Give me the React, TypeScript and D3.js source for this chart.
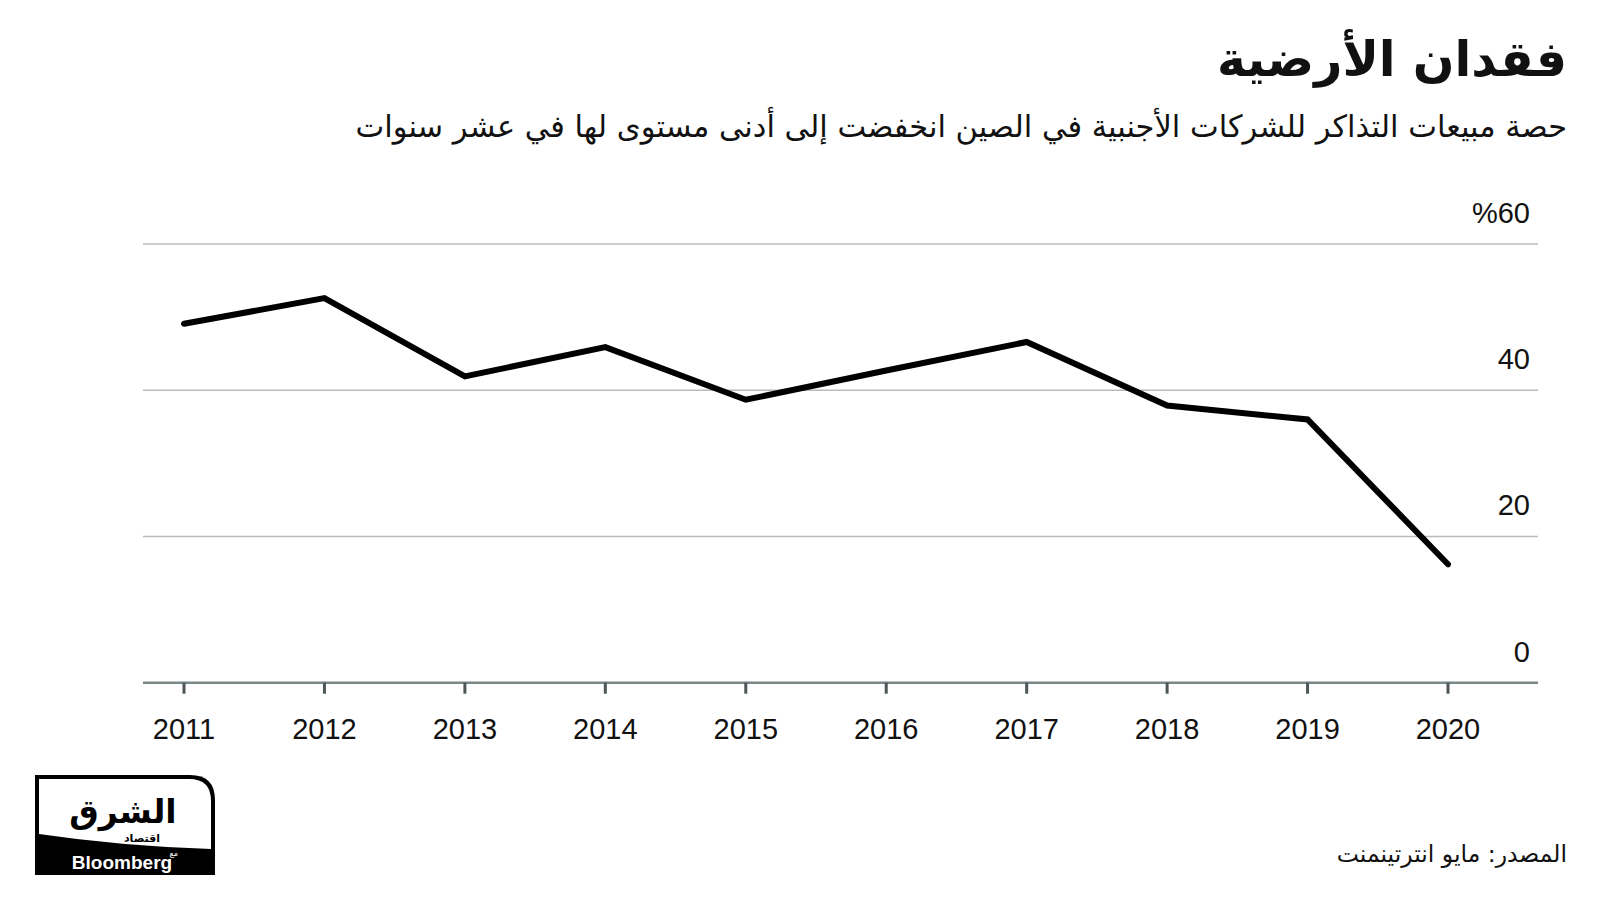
import React from "react";
import * as d3 from "d3";

const years = [2011, 2012, 2013, 2014, 2015, 2016, 2017, 2018, 2019, 2020];
const shares = [49.1, 52.6, 41.9, 45.9, 38.7, 42.7, 46.6, 37.9, 36.0, 16.2];
const yTicks = [0, 20, 40, 60];
const yTickLabels = ["0", "20", "40", "%60"];

const title = "فقدان الأرضية";
const subtitle = "حصة مبيعات التذاكر للشركات الأجنبية في الصين انخفضت إلى أدنى مستوى لها في عشر سنوات";
const source = "المصدر: مايو انترتينمنت";

const W = 1600;
const H = 900;
const plotLeft = 143;
const plotRight = 1538;
const arabicFont = "'DejaVu Sans', 'Noto Sans', sans-serif";
const numFont = "'Liberation Sans', Arial, sans-serif";

export default function App() {
  const x = d3
    .scalePoint<number>()
    .domain(years)
    .range([184, 1448]);
  const y = d3.scaleLinear().domain([0, 60]).range([682.7, 244]);

  const line = d3
    .line<number>()
    .x((_, i) => x(years[i]) as number)
    .y((d) => y(d));

  return (
    <div style={{ position: "absolute", left: 0, top: 0 }}>
      <svg width={W} height={H} style={{ display: "block", background: "#fff" }}>
        {/* Title */}
        <text
          x={1567}
          y={76}
          textAnchor="end"
          fontFamily={arabicFont}
          fontWeight="bold"
          fontSize={49}
          fill="#111"
        >
          {title}
        </text>
        <text
          x={1567}
          y={137}
          textAnchor="end"
          fontFamily={arabicFont}
          fontSize={30.5}
          fill="#111"
        >
          {subtitle}
        </text>

        {/* gridlines */}
        {yTicks
          .filter((t) => t !== 0)
          .map((t) => (
            <line
              key={t}
              x1={plotLeft}
              x2={plotRight}
              y1={y(t)}
              y2={y(t)}
              stroke="#b7bcbc"
              strokeWidth={1.5}
            />
          ))}
        {/* y labels */}
        {yTicks.map((t, i) => (
          <text
            key={t}
            x={1530}
            y={y(t) - 21}
            textAnchor="end"
            fontFamily={numFont}
            fontSize={29}
            fill="#111"
          >
            {yTickLabels[i]}
          </text>
        ))}

        {/* x axis */}
        <line
          x1={plotLeft}
          x2={plotRight}
          y1={y(0)}
          y2={y(0)}
          stroke="#7a8787"
          strokeWidth={2.5}
        />
        {years.map((yr) => (
          <g key={yr}>
            <line
              x1={x(yr)}
              x2={x(yr)}
              y1={y(0)}
              y2={y(0) + 11}
              stroke="#4d5656"
              strokeWidth={3}
            />
            <text
              x={x(yr)}
              y={739}
              textAnchor="middle"
              fontFamily={numFont}
              fontSize={29}
              fill="#111"
            >
              {yr}
            </text>
          </g>
        ))}

        {/* data line */}
        <path
          d={line(shares) || ""}
          fill="none"
          stroke="#000"
          strokeWidth={6}
          strokeLinecap="round"
          strokeLinejoin="miter"
        />

        {/* source */}
        <text
          x={1567}
          y={862}
          textAnchor="end"
          fontFamily={arabicFont}
          fontSize={23.5}
          fill="#111"
        >
          {source}
        </text>

        {/* logo */}
        <g>
          <path
            d="M35,775 L190,775 Q215,775 215,800 L215,875 L35,875 Z"
            fill="#000"
          />
          <path
            d="M39,779 L189,779 Q211,779 211,801 L211,849 Q120,846 39,834 Z"
            fill="#fff"
          />
          <text
            x={123}
            y={823}
            textAnchor="middle"
            fontFamily={arabicFont}
            fontWeight="bold"
            fontSize={33}
            fill="#000"
          >
            الشرق
          </text>
          <text
            x={160}
            y={842}
            textAnchor="end"
            fontFamily={arabicFont}
            fontWeight="bold"
            fontSize={11}
            fill="#000"
          >
            اقتصاد
          </text>
          <text
            x={178}
            y={856}
            textAnchor="end"
            fontFamily={arabicFont}
            fontSize={8}
            fill="#fff"
          >
            مع
          </text>
          <text
            x={122}
            y={869}
            textAnchor="middle"
            fontFamily={numFont}
            fontWeight="bold"
            fontSize={19}
            fill="#fff"
          >
            Bloomberg
          </text>
        </g>
      </svg>
    </div>
  );
}
